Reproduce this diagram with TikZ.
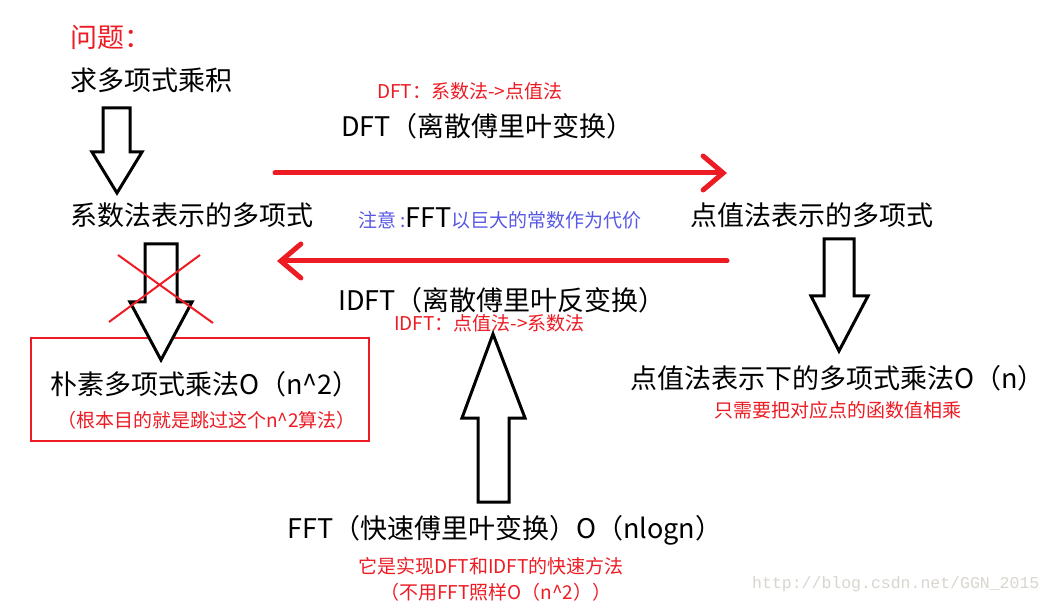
\documentclass[tikz,border=0pt]{standalone}
\usepackage{fontspec}
\setmainfont{Noto Sans CJK SC}
\setmonofont{Liberation Mono}
\usepackage{tikz}
\usetikzlibrary{positioning, arrows.meta}
\definecolor{paintred}{RGB}{237, 28, 36}
\definecolor{noteblue}{RGB}{88, 88, 228}
\definecolor{markgray}{RGB}{216, 214, 206}
\newcommand{\bigtxt}{\fontsize{27}{30}\selectfont}
\newcommand{\smalltxt}{\fontsize{19}{22}\selectfont}

\begin{document}
\begin{tikzpicture}[x=1pt, y=-1pt,
    txt/.style={inner sep=0pt, anchor=west, font=\bigtxt},
    redtxt/.style={inner sep=0pt, anchor=west, font=\smalltxt, text=paintred},
    hollow/.style={draw=black, line width=3pt, line join=miter, fill=white},
    redline/.style={draw=paintred, line width=5pt, line cap=round,
                    -{Straight Barb[length=20pt, width=34pt, line cap=round]}}]
  \useasboundingbox[fill=white] (0,0) rectangle (1052,609);

  % texts on the left
  \node[txt, text=paintred] (q) at (70,37) {问题：};
  \node[txt] (prob) at (70,80) {求多项式乘积};
  \node[txt] (coef) at (70,215) {系数法表示的多项式};
  \node[txt] (naive) at (50,384) {朴素多项式乘法O（n\^{}2）};
  \node[redtxt] (naivenote) at (57,420) {（根本目的就是跳过这个n\^{}2算法）};
  \draw[paintred, line width=1.2pt] (31,338) rectangle (369,441);

  % texts in the middle
  \node[redtxt] (dftnote) at (377,91) {DFT：系数法->点值法};
  \node[txt] (dft) at (341,126) {DFT（离散傅里叶变换）};
  \node[inner sep=0pt, anchor=west, font=\smalltxt, text=noteblue] (note) at (358,218)
       {注意 :{\bigtxt\color{black}FFT}以巨大的常数作为代价};
  \node[txt] (idft) at (338,300) {IDFT（离散傅里叶反变换）};
  \node[redtxt] (idftnote) at (394,323) {IDFT：点值法->系数法};
  \node[txt] (fft) at (287,530) {FFT（快速傅里叶变换）O（nlogn）};
  \node[redtxt] (fftnote) at (358,566) {它是实现DFT和IDFT的快速方法};
  \node[redtxt] (fftnote2) at (380,592) {（不用FFT照样O（n\^{}2））};

  % texts on the right
  \node[txt] (point) at (690,215) {点值法表示的多项式};
  \node[txt] (pmul) at (630,378) {点值法表示下的多项式乘法O（n）};
  \node[redtxt] (pmulnote) at (714,410) {只需要把对应点的函数值相乘};
  \node[inner sep=0pt, anchor=west, text=markgray, font=\ttfamily\fontsize{16.5}{20}\selectfont]
       (mark) at (752,584) {http://blog.csdn.net/GGN\_2015};

  % DFT and IDFT
  \coordinate (dftA) at (275,173);
  \coordinate (dftB) at (727,173);
  \coordinate (idftA) at (727,261);
  \coordinate (idftB) at (277,261);
  \draw[redline] (dftA) -- (dftB);
  \draw[redline] (idftA) -- (idftB);

  % hollow arrows
  \draw[hollow] (103,108) -- (130,108) -- (130,152) -- (142,152) -- (117,193)
                -- (92,152) -- (103,152) -- cycle;
  \draw[hollow] (145,244) -- (177,244) -- (177,302) -- (192,302) -- (161,360)
                -- (130,302) -- (145,302) -- cycle;
  \draw[hollow] (824,239) -- (854,239) -- (854,296) -- (868,296) -- (839,351)
                -- (811,296) -- (824,296) -- cycle;
  \draw[hollow] (478,502) -- (509,502) -- (509,418) -- (525,418) -- (493,334)
                -- (462,418) -- (478,418) -- cycle;

  % crossed out
  \draw[paintred, line width=2pt] (118,255) -- (213,323);
  \draw[paintred, line width=2pt] (200,255) -- (109,322);
\end{tikzpicture}
\end{document}
